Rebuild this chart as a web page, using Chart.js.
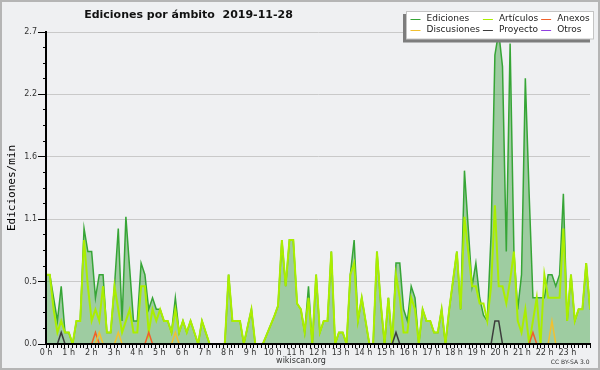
<!DOCTYPE html>
<html><head><meta charset="utf-8">
<style>html,body{margin:0;padding:0;background:#eff0f2;overflow:hidden}canvas{display:block}</style>
<script src="https://cdn.jsdelivr.net/npm/chart.js@4/dist/chart.umd.min.js"></script>
</head><body>
<canvas id="c" width="600" height="370"></canvas>
<script>
// ---- text ----
const chartTitle = 'Ediciones por ámbito  2019-11-28';
const yAxisTitle = 'Ediciones/min';
const footerLeft = 'wikiscan.org';
const footerRight = 'CC BY-SA 3.0';
const seriesNames = ['Ediciones', 'Artículos', 'Anexos', 'Discusiones', 'Proyecto', 'Otros'];
const seriesColors = ['#36a536', '#aaee00', '#f0602a', '#f2c030', '#3c3c3c', '#9040e0'];

// ---- axes ----
const hourLabels = ['0 h','1 h','2 h','3 h','4 h','5 h','6 h','7 h','8 h','9 h','10 h','11 h',
  '12 h','13 h','14 h','15 h','16 h','17 h','18 h','19 h','20 h','21 h','22 h','23 h'];
const yMajorTicks = [0, 0.54, 1.08, 1.62, 2.16, 2.7];
const yTickLabels = ['0.0', '0.5', '1.1', '1.6', '2.2', '2.7'];

// ---- data: edits per minute, one value per 10-minute slot (144 slots) ----
const ediciones = [
  0.6,0.6,0.4,0.2,0.5,0.1,0.1,0,0.2,0.2,
  1.0,0.8,0.8,0.4,0.6,0.6,0.1,0.1,0.5,1.0,
  0.2,1.1,0.65,0.2,0.2,0.7,0.6,0.3,0.4,0.3,
  0.3,0.2,0.2,0.1,0.4,0.1,0.2,0.1,0.2,0.1,
  0,0.2,0.1,0,0,0,0,0,0.6,0.2,
  0.2,0.2,0,0.15,0.3,0,0,0,0.08,0.16,
  0.24,0.33,0.9,0.5,0.9,0.9,0.35,0.3,0.1,0.5,
  0,0.6,0.1,0.2,0.2,0.8,0,0.1,0.1,0,
  0.6,0.9,0.2,0.4,0.2,0,0,0.8,0.35,0,
  0.4,0,0.7,0.7,0.3,0.2,0.5,0.4,0,0.3,
  0.2,0.2,0.1,0.1,0.3,0,0.3,0.55,0.8,0.3,
  1.5,1.0,0.5,0.7,0.4,0.25,0.2,0.95,2.5,2.7,
  2.4,0.8,2.6,0.8,0.3,0.6,2.3,1.3,0.4,0.4,
  0.4,0.4,0.6,0.6,0.5,0.6,1.3,0.2,0.6,0.2,
  0.3,0.3,0.7,0.3
];
const articulos = [
  0.6,0.6,0.3,0.1,0.2,0.1,0.1,0,0.2,0.2,
  0.9,0.5,0.2,0.3,0.2,0.5,0.1,0.1,0.5,0.3,
  0.1,0.2,0.3,0.1,0.1,0.5,0.5,0.1,0.3,0.2,
  0.3,0.2,0.2,0.1,0.3,0.1,0.2,0.1,0.2,0.1,
  0,0.2,0.1,0,0,0,0,0,0.6,0.2,
  0.2,0.2,0,0.15,0.3,0,0,0,0.08,0.16,
  0.24,0.33,0.9,0.5,0.9,0.9,0.35,0.3,0.1,0.4,
  0,0.6,0.1,0.2,0.2,0.8,0,0.1,0.1,0,
  0.6,0.7,0.2,0.4,0.2,0,0,0.8,0.35,0,
  0.4,0,0.6,0.4,0.1,0.1,0.4,0.3,0,0.3,
  0.2,0.2,0.1,0.1,0.3,0,0.3,0.55,0.8,0.3,
  1.1,0.8,0.5,0.5,0.35,0.35,0.2,0.5,1.2,0.5,
  0.5,0.35,0.55,0.8,0.2,0.1,0.3,0,0.2,0.4,
  0,0.6,0.4,0.4,0.4,0.4,1.0,0.2,0.6,0.2,
  0.3,0.3,0.7,0.3
];
// sparse series: slot index -> value (all other slots read as 0)
const anexosSlots = [13, 27, 128];
const anexosValues = [0.1, 0.1, 0.1];
const discusionesSlots = [14, 19, 34, 133];
const discusionesValues = [0.1, 0.1, 0.1, 0.2];
const proyectoSlots = [4, 92, 118, 119];
const proyectoValues = [0.1, 0.1, 0.2, 0.2];
const otrosSlots = [];
const otrosValues = [];

// ---- build ----
const SLOTS = ediciones.length;
function sparse(slots, values) {
  const a = new Array(SLOTS).fill(0);
  slots.forEach((s, k) => { a[s] = values[k]; });
  return a;
}
const allSeries = [ediciones, articulos, sparse(anexosSlots, anexosValues),
  sparse(discusionesSlots, discusionesValues), sparse(proyectoSlots, proyectoValues),
  sparse(otrosSlots, otrosValues)];
// points are spread across the 24 h axis (first at 0 h, last at the right edge)
const toPoints = arr => arr.map((v, i) => ({ x: i * 24 / (SLOTS - 1), y: v }));

const datasets = allSeries.map((arr, k) => ({
  label: seriesNames[k],
  data: toPoints(arr),
  borderColor: seriesColors[k],
  backgroundColor: k === 0 ? 'rgba(60,160,62,0.45)' : 'transparent',
  fill: k === 0 ? 'origin' : false,
  borderWidth: k === 1 ? 2 : 1.5,
  pointRadius: 0,
  tension: 0,
  order: k === 0 ? 10 : (k === 1 ? 9 : 5 - k)
}));

const FONT = '"DejaVu Sans", "Noto Sans", sans-serif';

const bgPlugin = {
  id: 'bg',
  beforeDraw(chart) {
    const ctx = chart.ctx;
    ctx.save();
    ctx.fillStyle = '#eff0f2';
    ctx.fillRect(0, 0, chart.width, chart.height);
    ctx.strokeStyle = '#b5b5b5';
    ctx.lineWidth = 2;
    ctx.strokeRect(1, 1, chart.width - 2, chart.height - 2);
    ctx.restore();
  }
};

const decoPlugin = {
  id: 'deco',
  afterDraw(chart) {
    const ctx = chart.ctx;
    ctx.save();
    // title
    ctx.fillStyle = '#111';
    ctx.font = 'bold 11px ' + FONT;
    ctx.textAlign = 'center';
    ctx.textBaseline = 'middle';
    ctx.fillText(chartTitle, 188.5, 15);
    // footer
    ctx.fillStyle = '#333';
    ctx.font = '8px ' + FONT;
    ctx.fillText(footerLeft, 301, 361);
    ctx.font = '6px ' + FONT;
    ctx.textAlign = 'right';
    ctx.fillText(footerRight, 589.5, 362.5);

    // legend box (3 columns x 2 rows)
    const items = chart.data.datasets.map(d => ({ text: d.label, color: d.borderColor }));
    const cols = 3, rows = 2;
    ctx.font = '9px ' + FONT;
    const colW = [];
    for (let c = 0; c < cols; c++) {
      let w = 0;
      for (let r = 0; r < rows; r++) {
        const it = items[r * cols + c];
        if (it) w = Math.max(w, ctx.measureText(it.text).width);
      }
      colW.push(w);
    }
    const pad = 4, sw = 10, gap = 6, colGap = 3;
    const boxW = pad * 2 + colW.reduce((a, w) => a + sw + gap + w, 0) + colGap * (cols - 1);
    const right = 593.5, top = 11.5, h = 27.5;
    const left = Math.round(right - boxW) + 0.5;
    ctx.fillStyle = '#7d7d7d';
    ctx.fillRect(left - 3.5, top + 2.5, right - left, h + 1);
    ctx.fillStyle = '#ffffff';
    ctx.fillRect(left, top, right - left, h);
    ctx.strokeStyle = '#c4c4c4';
    ctx.lineWidth = 1;
    ctx.strokeRect(left, top, right - left, h);
    ctx.textAlign = 'left';
    ctx.textBaseline = 'middle';
    let x = left + pad;
    for (let c = 0; c < cols; c++) {
      for (let r = 0; r < rows; r++) {
        const it = items[r * cols + c];
        if (!it) continue;
        const y = top + 7.5 + r * 10.5;
        ctx.strokeStyle = it.color;
        ctx.lineWidth = 1;
        ctx.beginPath();
        ctx.moveTo(x, Math.round(y) + 0.5);
        ctx.lineTo(x + sw, Math.round(y) + 0.5);
        ctx.stroke();
        ctx.fillStyle = '#222';
        ctx.fillText(it.text, x + sw + gap, y);
      }
      x += sw + gap + colW[c] + colGap;
    }
    ctx.restore();
  }
};

new Chart(document.getElementById('c'), {
  type: 'line',
  data: { datasets },
  options: {
    responsive: false,
    devicePixelRatio: 1,
    animation: false,
    layout: { padding: { top: 32, right: 10, left: 0, bottom: 0 } },
    plugins: { legend: { display: false }, title: { display: false }, tooltip: { enabled: false } },
    scales: {
      x: {
        type: 'linear',
        min: 0, max: 24,
        afterBuildTicks(scale) {
          const t = [];
          for (let i = 0; i <= 144; i++) t.push({ value: i / 6 });
          scale.ticks = t;
        },
        afterFit(scale) { scale.height = 26; },
        ticks: {
          autoSkip: false, maxRotation: 0, padding: 0,
          color: '#333', font: { family: FONT, size: 8 },
          callback: (v) => (Number.isInteger(v) && v < 24) ? hourLabels[v] : ''
        },
        grid: { drawOnChartArea: false, tickLength: 4, tickColor: '#000', tickWidth: 1 },
        border: { display: true, color: '#000', width: 2, z: 1 }
      },
      y: {
        type: 'linear',
        min: 0, max: 2.7,
        afterBuildTicks(scale) {
          const t = [];
          for (let k = 0; k < yMajorTicks.length; k++) {
            t.push({ value: yMajorTicks[k] });
            if (k < yMajorTicks.length - 1) {
              const step = (yMajorTicks[k + 1] - yMajorTicks[k]) / 4;
              for (let m = 1; m < 4; m++) t.push({ value: yMajorTicks[k] + m * step });
            }
          }
          scale.ticks = t;
        },
        afterFit(scale) { scale.width = 46; },
        ticks: {
          autoSkip: false, padding: 1,
          color: '#333', font: { family: FONT, size: 8 },
          callback: (v, i) => (i % 4 === 0) ? yTickLabels[i / 4] : ''
        },
        grid: {
          color: (c) => (c.index % 4 === 0 && c.index > 0) ? '#c9c9c9' : 'rgba(0,0,0,0)',
          lineWidth: 1,
          tickLength: 8,
          tickColor: '#000',
          tickBorderDash: (c) => (c.index % 4 === 0) ? [] : [0, 5, 3, 100]
        },
        border: { display: true, color: '#000', width: 2, z: 1 },
        title: {
          display: true, text: yAxisTitle, color: '#000',
          font: { family: '"DejaVu Sans Mono", monospace', size: 11 },
          padding: { top: 5.5, bottom: 0 }
        }
      }
    }
  },
  plugins: [bgPlugin, decoPlugin]
});
</script>
</body></html>
